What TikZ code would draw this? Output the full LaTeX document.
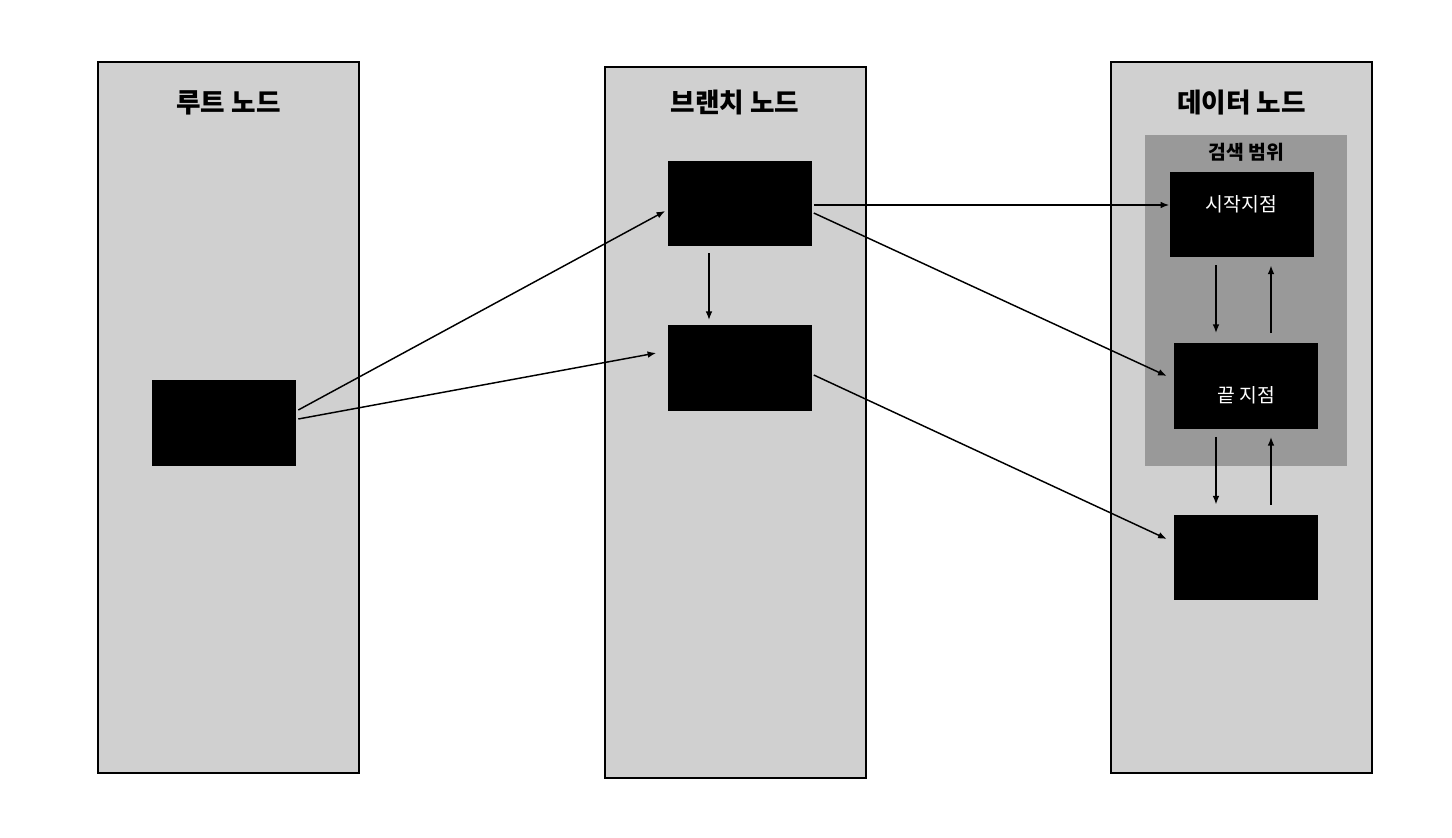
\documentclass[tikz,border=0pt]{standalone}
\usepackage{fontspec}
\newfontfamily\kr{Noto Sans CJK KR}
\usetikzlibrary{positioning, calc, arrows.meta}
\definecolor{panelgray}{RGB}{208,208,208}
\definecolor{rangegray}{RGB}{153,153,153}
\tikzset{
    panel node/.style={rectangle, draw, line width=1.5pt, fill=panelgray, minimum width=195.75pt, minimum height=533.25pt, inner sep=0pt},
    title label/.style={font=\kr\bfseries\fontsize{20}{24}\selectfont},
    block node/.style={rectangle, fill=black, minimum width=108pt, minimum height=64pt, inner sep=0pt},
    block label/.style={font=\kr\fontsize{14.5}{17}\selectfont, text=white},
    link/.style={-{Latex[length=6.5pt, width=5pt]}, line width=1.1pt},
}
\newcommand{\drawpanels}{
    \node[panel node] (rootpanel) at (228.5,417.5) {};
    \node[panel node] (branchpanel) at (735,422.5) {};
    \node[panel node] (datapanel) at (1241.5,417.5) {};
    \node[title label] at (228.5,103) {루트 노드};
    \node[title label] at (735,103) {브랜치 노드};
    \node[title label] at (1241.5,103) {데이터 노드};
}

\begin{document}
\begin{tikzpicture}[x=0.75pt, y=-0.75pt]
            \useasboundingbox (0,0) rectangle (1452,838);
            \drawpanels
            \fill[rangegray] (1145,135) rectangle (1347,466);
            \node[title label, font=\kr\bfseries\fontsize{14.5}{17}\selectfont] at (1246,152) {검색 범위};
            \node[block node] (root) at (224,423) {};
            \node[block node] (br1) at (739.5,203.5) {};
            \node[block node] (br2) at (739.5,368) {};
            \node[block node] (start) at (1241.5,214.5) {};
            \node[block node] (end) at (1246,386) {};
            \node[block node] (leaf) at (1246,557.5) {};
            \node[block label] at ($(start.center)+(0,-10)$) {시작지점};
            \node[block label] at ($(end.center)+(0,9)$) {끝 지점};
            \draw[link] ($(root.east)+(2,-13)$) -- ($(br1.west)+(-2,7.5)$);
            \draw[link] ($(root.east)+(2,-4)$) -- ($(br2.west)+(-11,-15)$);
            \draw[link] ($(br1.south)+(-30.5,7)$) -- ($(br2.north)+(-30.5,-5)$);
            \draw[link] ($(br1.east)+(2,1.5)$) -- ($(start.west)+(0,-9.5)$);
            \draw[link] ($(br1.east)+(2,9.5)$) -- ($(end.west)+(-7,-10)$);
            \draw[link] ($(br2.east)+(2,7)$) -- ($(leaf.west)+(-7,-18.5)$);
            \draw[link] ($(start.south)+(-25.5,8)$) -- ($(end.north)+(-30,-10)$);
            \draw[link] ($(end.north)+(25,-10)$) -- ($(start.south)+(29.5,8)$);
            \draw[link] ($(end.south)+(-30,8)$) -- ($(leaf.north)+(-30,-10)$);
            \draw[link] ($(leaf.north)+(25,-10)$) -- ($(end.south)+(25,8)$);
        \end{tikzpicture}
\end{document}
